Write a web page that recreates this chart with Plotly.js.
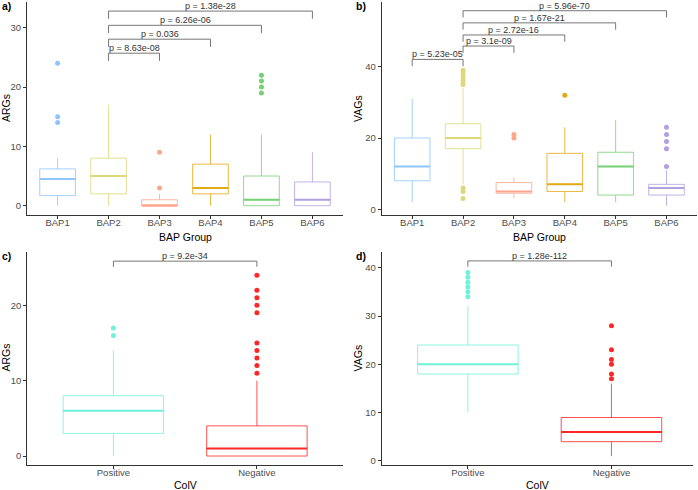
<!DOCTYPE html>
<html>
<head>
<meta charset="utf-8">
<script src="https://cdn.plot.ly/plotly-3.0.1.min.js"></script>
<style>html,body{margin:0;padding:0;background:#fff;}#chart{width:698px;height:490px;}</style>
</head>
<body>
<div id="chart"></div>
<script>
// ---------- DATA ----------
const bapGroups = ['BAP1', 'BAP2', 'BAP3', 'BAP4', 'BAP5', 'BAP6'];
const colvGroups = ['Positive', 'Negative'];

// Panel a: ARGs by BAP group (box statistics)
const argQ1 = [1.7, 2, 0, 2, 0, 0];
const argMedian = [4.5, 5, 0, 3, 1, 1];
const argQ3 = [6.2, 8, 1, 7, 5, 4];
const argLower = [0, 0, 0, 0, 0, 0];
const argUpper = [8, 17, 2, 12, 12, 9];
const argOutliers = [[14, 15, 24], [], [3, 9], [], [19, 20, 21, 22], []];

// Panel b: VAGs by BAP group
const vagQ1 = [8, 17, 4.5, 5, 4, 4];
const vagMedian = [12, 20, 5, 7, 12, 6];
const vagQ3 = [20, 24, 7.5, 15.7, 16, 7];
const vagLower = [2, 7, 3, 2, 2, 1];
const vagUpper = [31, 34, 9, 23, 25, 11];
const vagOutliers = [[], [3, 5, 6, 35, 36, 37, 38, 39], [20, 21], [32], [], [12, 17, 19, 21, 23]];

// Panel c: ARGs by ColV
const colvArgQ1 = [3, 0];
const colvArgMedian = [6, 1];
const colvArgQ3 = [8, 4];
const colvArgLower = [0, 0];
const colvArgUpper = [14, 10];
const colvArgOutliers = [[16, 17], [11, 12, 13, 14, 15, 19, 20, 21, 22, 24]];

// Panel d: VAGs by ColV
const colvVagQ1 = [18, 4];
const colvVagMedian = [20, 6];
const colvVagQ3 = [24, 9];
const colvVagLower = [10, 1];
const colvVagUpper = [32, 16];
const colvVagOutliers = [[34, 35, 36, 37, 38, 39], [17, 18, 20, 21, 23, 28]];

// Significance comparisons (group index pairs, p-value labels, bracket heights)
const argPairs = [[1, 2], [1, 3], [1, 4], [1, 5]];
const argPLabels = ['p = 8.63e-08', 'p = 0.036', 'p = 6.26e-06', 'p = 1.38e-28'];
const argPHeights = [25.7, 28.06, 30.4, 32.8];

const vagPairs = [[0, 1], [1, 2], [1, 3], [1, 4], [1, 5]];
const vagPLabels = ['p = 5.23e-05', 'p = 3.1e-09', 'p = 2.72e-16', 'p = 1.67e-21', 'p = 5.96e-70'];
const vagPHeights = [42.05, 45.8, 48.9, 52.3, 55.7];

const colvArgPairs = [[0, 1]];
const colvArgPLabels = ['p = 9.2e-34'];
const colvArgPHeights = [25.86];

const colvVagPairs = [[0, 1]];
const colvVagPLabels = ['p = 1.28e-112'];
const colvVagPHeights = [41.4];

// ---------- STYLE ----------
const bapColors = ['#8EC5FF', '#DCDA78', '#FFA68C', '#E3A817', '#74D274', '#B3A0E0'];
const colvColors = ['#70F2DA', '#FF2626'];
const FONT = '"Liberation Sans", Arial, Helvetica, sans-serif';
const W = 698, H = 490;
const fx = p => p / W;
const fy = p => 1 - p / H;

function rgba(hex, a) {
  const n = parseInt(hex.slice(1), 16);
  return `rgba(${(n >> 16) & 255},${(n >> 8) & 255},${n & 255},${a})`;
}

const traces = [];
const shapes = [];
const annotations = [];

function addPanel(ax, cats, colors, q1, med, q3, lo, hi, outs, pairs, plabels, pheights, tip) {
  const xr = ax.x, yr = ax.y;
  cats.forEach((c, i) => {
    traces.push({
      type: 'box', name: c, x: [i],
      q1: [q1[i]], median: [med[i]], q3: [q3[i]],
      lowerfence: [lo[i]], upperfence: [hi[i]],
      width: 0.7, whiskerwidth: 0,
      line: {color: rgba(colors[i], 0.8), width: 1},
      fillcolor: 'rgba(255,255,255,0)',
      xaxis: xr, yaxis: yr, showlegend: false, hoverinfo: 'skip'
    });
    if (outs[i].length) {
      traces.push({
        type: 'scatter', mode: 'markers',
        x: outs[i].map(() => i), y: outs[i],
        marker: {size: 5, color: colors[i]},
        xaxis: xr, yaxis: yr, showlegend: false, hoverinfo: 'skip'
      });
    }
    shapes.push({
      type: 'line', xref: xr, yref: yr,
      x0: i - 0.35, x1: i + 0.35, y0: med[i], y1: med[i],
      line: {color: colors[i], width: 2}
    });
  });
  pairs.forEach((p, k) => {
    const h = pheights[k];
    shapes.push({
      type: 'path', xref: xr, yref: yr,
      path: `M ${p[0]},${h - tip} L ${p[0]},${h} L ${p[1]},${h} L ${p[1]},${h - tip}`,
      line: {color: '#666666', width: 0.9}
    });
    annotations.push({
      xref: xr, yref: yr, x: (p[0] + p[1]) / 2, y: h,
      text: plabels[k], showarrow: false, yanchor: 'bottom', yshift: -2,
      font: {family: FONT, size: 9, color: '#333333'}
    });
  });
}

addPanel({x: 'x', y: 'y'}, bapGroups, bapColors, argQ1, argMedian, argQ3, argLower, argUpper, argOutliers,
  argPairs, argPLabels, argPHeights, 1.3);
addPanel({x: 'x2', y: 'y2'}, bapGroups, bapColors, vagQ1, vagMedian, vagQ3, vagLower, vagUpper, vagOutliers,
  vagPairs, vagPLabels, vagPHeights, 1.9);
addPanel({x: 'x3', y: 'y3'}, colvGroups, colvColors, colvArgQ1, colvArgMedian, colvArgQ3, colvArgLower, colvArgUpper, colvArgOutliers,
  colvArgPairs, colvArgPLabels, colvArgPHeights, 0.75);
addPanel({x: 'x4', y: 'y4'}, colvGroups, colvColors, colvVagQ1, colvVagMedian, colvVagQ3, colvVagLower, colvVagUpper, colvVagOutliers,
  colvVagPairs, colvVagPLabels, colvVagPHeights, 1.18);

function xAxis(domain, cats, range, anchor) {
  return {
    domain: domain, anchor: anchor, range: range, type: 'linear',
    tickvals: cats.map((c, i) => i), ticktext: cats,
    showline: true, linecolor: '#333333', linewidth: 1,
    ticks: 'outside', ticklen: 3, tickcolor: '#333333', tickwidth: 1,
    ticklabelstandoff: -4,
    showgrid: false, zeroline: false,
    tickfont: {family: FONT, size: 9.5, color: '#4D4D4D'}
  };
}
function yAxis(domain, range, dtick, anchor) {
  return {
    domain: domain, anchor: anchor, range: range, dtick: dtick, tick0: 0,
    showline: true, linecolor: '#333333', linewidth: 1,
    ticks: 'outside', ticklen: 3, tickcolor: '#333333', tickwidth: 1,
    showgrid: false, zeroline: false,
    tickfont: {family: FONT, size: 9.5, color: '#4D4D4D'}
  };
}

const layout = {
  width: W, height: H,
  margin: {l: 0, r: 0, t: 0, b: 0},
  paper_bgcolor: '#FFFFFF', plot_bgcolor: '#FFFFFF',
  showlegend: false,
  font: {family: FONT},
  xaxis: xAxis([fx(27), fx(343)], bapGroups, [-0.6, 5.6], 'y'),
  yaxis: yAxis([fy(215), fy(2)], [-1.57, 34.33], 10, 'x'),
  xaxis2: xAxis([fx(381.7), fx(697)], bapGroups, [-0.6, 5.6], 'y2'),
  yaxis2: yAxis([fy(215), fy(2)], [-1.6, 58.15], 20, 'x2'),
  xaxis3: xAxis([fx(27.3), fx(343)], colvGroups, [-0.6, 1.6], 'y3'),
  yaxis3: yAxis([fy(465), fy(251.5)], [-1.19, 27.14], 10, 'x3'),
  xaxis4: xAxis([fx(381.7), fx(693.3)], colvGroups, [-0.6, 1.57], 'y4'),
  yaxis4: yAxis([fy(465), fy(251.5)], [-0.83, 43.35], 10, 'x4'),
  shapes: shapes,
  annotations: annotations.concat([
    // axis titles
    {xref: 'paper', yref: 'paper', x: fx(185), y: fy(236.5), text: 'BAP Group', showarrow: false,
      xanchor: 'center', yanchor: 'middle', font: {family: FONT, size: 10.5, color: '#000'}},
    {xref: 'paper', yref: 'paper', x: fx(539.3), y: fy(236.5), text: 'BAP Group', showarrow: false,
      xanchor: 'center', yanchor: 'middle', font: {family: FONT, size: 10.5, color: '#000'}},
    {xref: 'paper', yref: 'paper', x: fx(185), y: fy(484.5), text: 'ColV', showarrow: false,
      xanchor: 'center', yanchor: 'middle', font: {family: FONT, size: 10.5, color: '#000'}},
    {xref: 'paper', yref: 'paper', x: fx(537.5), y: fy(484.5), text: 'ColV', showarrow: false,
      xanchor: 'center', yanchor: 'middle', font: {family: FONT, size: 10.5, color: '#000'}},
    {xref: 'paper', yref: 'paper', x: fx(5.5), y: fy(108.5), text: 'ARGs', showarrow: false, textangle: -90,
      xanchor: 'center', yanchor: 'middle', font: {family: FONT, size: 10.5, color: '#000'}},
    {xref: 'paper', yref: 'paper', x: fx(357.5), y: fy(108.5), text: 'VAGs', showarrow: false, textangle: -90,
      xanchor: 'center', yanchor: 'middle', font: {family: FONT, size: 10.5, color: '#000'}},
    {xref: 'paper', yref: 'paper', x: fx(5.5), y: fy(358), text: 'ARGs', showarrow: false, textangle: -90,
      xanchor: 'center', yanchor: 'middle', font: {family: FONT, size: 10.5, color: '#000'}},
    {xref: 'paper', yref: 'paper', x: fx(357.5), y: fy(358), text: 'VAGs', showarrow: false, textangle: -90,
      xanchor: 'center', yanchor: 'middle', font: {family: FONT, size: 10.5, color: '#000'}},
    // panel labels
    {xref: 'paper', yref: 'paper', x: fx(0), y: fy(6), text: '<b>a)</b>', showarrow: false,
      xanchor: 'left', yanchor: 'middle', font: {family: FONT, size: 10.5, color: '#000'}},
    {xref: 'paper', yref: 'paper', x: fx(354), y: fy(6), text: '<b>b)</b>', showarrow: false,
      xanchor: 'left', yanchor: 'middle', font: {family: FONT, size: 10.5, color: '#000'}},
    {xref: 'paper', yref: 'paper', x: fx(0), y: fy(256), text: '<b>c)</b>', showarrow: false,
      xanchor: 'left', yanchor: 'middle', font: {family: FONT, size: 10.5, color: '#000'}},
    {xref: 'paper', yref: 'paper', x: fx(354), y: fy(256), text: '<b>d)</b>', showarrow: false,
      xanchor: 'left', yanchor: 'middle', font: {family: FONT, size: 10.5, color: '#000'}}
  ])
};

Plotly.newPlot('chart', traces, layout, {displayModeBar: false, staticPlot: true});
</script>
</body>
</html>
